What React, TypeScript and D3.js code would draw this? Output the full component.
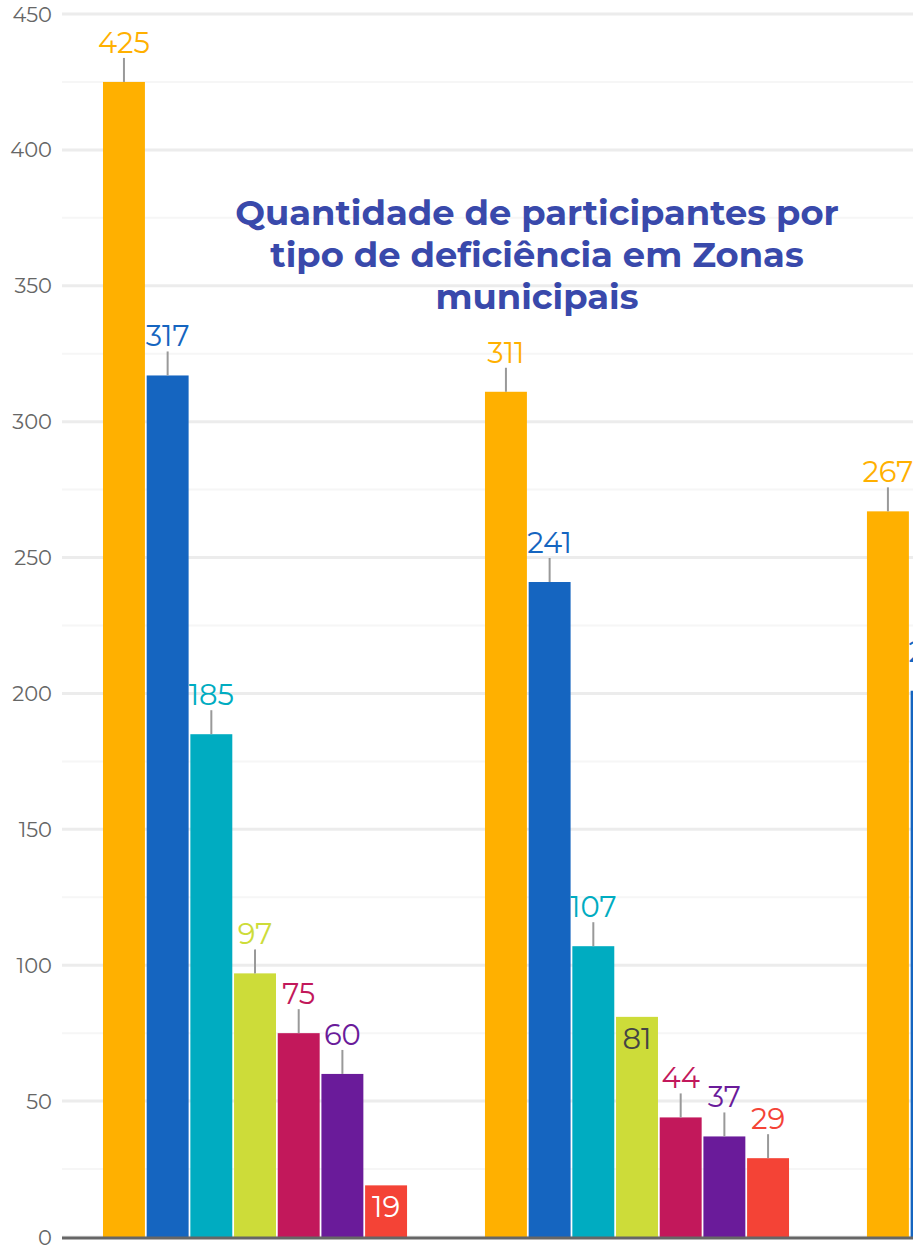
import React from "react";
import * as d3 from "d3";

const WIDTH = 913;
const HEIGHT = 1249;

// zones (only the first two and part of the third are visible)
const zones = ["Zona 1", "Zona 2", "Zona 3"];
const types = ["Tipo A", "Tipo B", "Tipo C", "Tipo D", "Tipo E", "Tipo F", "Tipo G"];
const COLORS = ["#FFB000", "#1565C0", "#00ACC1", "#CDDC39", "#C2185B", "#6A1B9A", "#F44336"];

const zone1Values = [425, 317, 185, 97, 75, 60, 19];
const zone2Values = [311, 241, 107, 81, 44, 37, 29];
const zone3Values = [267, 201];

const yTicks = [0, 50, 100, 150, 200, 250, 300, 350, 400, 450];
const minorTicks = [25, 75, 125, 175, 225, 275, 325, 375, 425];

const titleLines = [
  "Quantidade de participantes por",
  "tipo de deficiência em Zonas",
  "municipais",
];

// labels drawn inside the bar instead of above it
const insideLabels: Record<string, string> = {
  "Zona 1|Tipo G": "#ffffff",
  "Zona 2|Tipo D": "#444444",
};

const FONT = "Montserrat, 'Open Sans', sans-serif";

export default function App() {
  const margin = { left: 62, top: 14, bottom: 12 };
  const plotBottom = HEIGHT - margin.bottom;

  const y = d3.scaleLinear().domain([0, 450]).range([plotBottom, margin.top]);

  const x0 = d3
    .scaleBand()
    .domain(zones)
    .range([margin.left, margin.left + 1150])
    .paddingInner(0.204)
    .paddingOuter(0.1073);

  const x1 = d3
    .scaleBand()
    .domain(types)
    .range([0, x0.bandwidth()])
    .paddingInner(0.04)
    .paddingOuter(0);

  const color = d3.scaleOrdinal<string, string>().domain(types).range(COLORS);

  const rows = [zone1Values, zone2Values, zone3Values];
  const bars = zones.flatMap((z, i) =>
    rows[i].map((v, j) => ({ zone: z, type: types[j], value: v }))
  );

  return (
    <div style={{ position: "absolute", left: 0, top: 0 }}>
      <svg width={WIDTH} height={HEIGHT} style={{ display: "block", background: "#fff" }}>
        {/* grid */}
        {minorTicks.map((t) => (
          <line key={"m" + t} x1={margin.left} x2={WIDTH} y1={y(t)} y2={y(t)} stroke="#f6f6f6" strokeWidth={2} />
        ))}
        {yTicks.map((t) => (
          <line key={"g" + t} x1={margin.left} x2={WIDTH} y1={y(t)} y2={y(t)} stroke="#ececec" strokeWidth={3} />
        ))}
        {yTicks.map((t) => (
          <text
            key={"t" + t}
            x={52}
            y={y(t)}
            dy="0.36em"
            textAnchor="end"
            fontFamily={FONT}
            fontSize={21}
            fill="#666"
          >
            {t}
          </text>
        ))}

        {/* bars */}
        {bars.map((b) => {
          const bx = (x0(b.zone) || 0) + (x1(b.type) || 0);
          const bw = x1.bandwidth();
          const top = y(b.value);
          const cx = bx + bw / 2;
          const inside = insideLabels[b.zone + "|" + b.type];
          return (
            <g key={b.zone + b.type}>
              <rect x={bx} y={top} width={bw} height={plotBottom - top} fill={color(b.type)} />
              {inside ? (
                <text x={cx} y={top + 32} textAnchor="middle" fontFamily={FONT} fontSize={29} fill={inside}>
                  {b.value}
                </text>
              ) : (
                <>
                  <line x1={cx} x2={cx} y1={top - 24} y2={top} stroke="#999" strokeWidth={2} />
                  <text x={cx} y={top - 29} textAnchor="middle" fontFamily={FONT} fontSize={29} fill={color(b.type)}>
                    {b.value}
                  </text>
                </>
              )}
            </g>
          );
        })}

        {/* baseline */}
        <line x1={margin.left} x2={WIDTH} y1={plotBottom + 1} y2={plotBottom + 1} stroke="#666" strokeWidth={3} />

        {/* title */}
        {titleLines.map((l, i) => (
          <text
            key={l}
            x={537}
            y={225 + i * 42}
            textAnchor="middle"
            fontFamily={FONT}
            fontWeight={700}
            fontSize={35.3}
            fill="#3949AB"
          >
            {l}
          </text>
        ))}
      </svg>
    </div>
  );
}
